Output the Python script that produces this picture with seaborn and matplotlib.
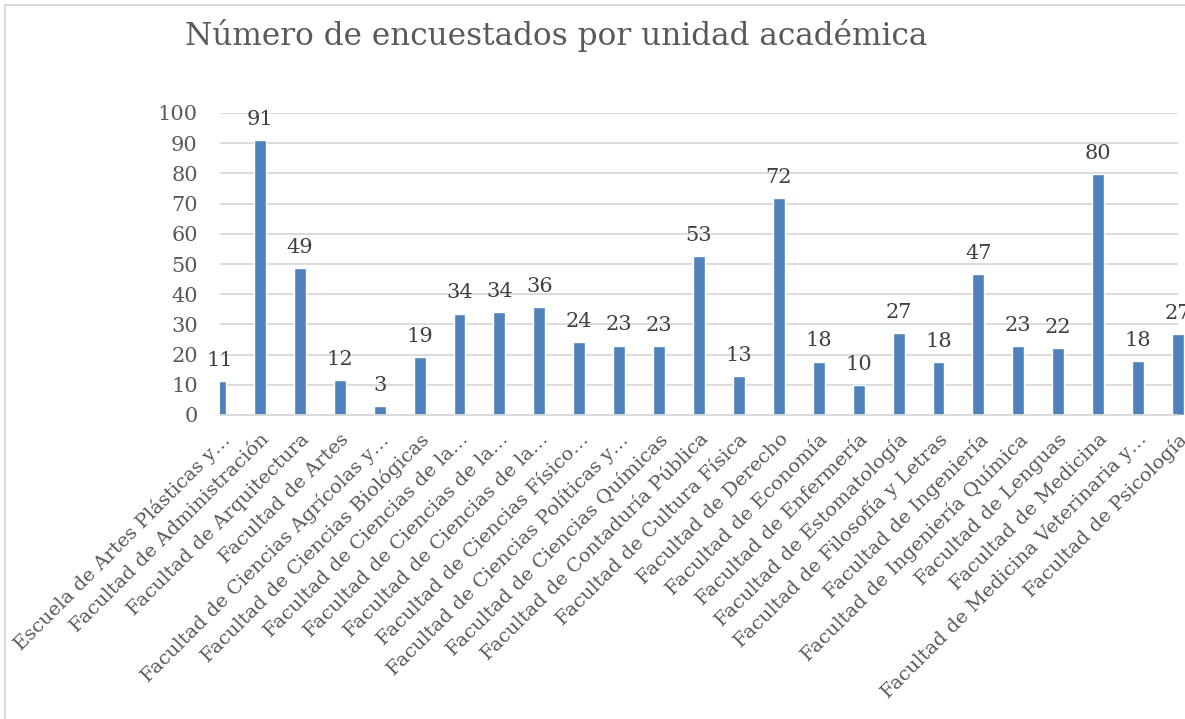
import matplotlib
matplotlib.use("Agg")
import matplotlib.pyplot as plt
import seaborn as sns
import pandas as pd
from matplotlib.patches import Rectangle

# datos
unidades = [
    "Escuela de Artes Plásticas y…",
    "Facultad de Administración",
    "Facultad de Arquitectura",
    "Facultad de Artes",
    "Facultad de Ciencias Agrícolas y…",
    "Facultad de Ciencias Biológicas",
    "Facultad de Ciencias de la…",
    "Facultad de Ciencias de la…",
    "Facultad de Ciencias de la…",
    "Facultad de Ciencias Físico…",
    "Facultad de Ciencias Políticas y…",
    "Facultad de Ciencias Químicas",
    "Facultad de Contaduría Pública",
    "Facultad de Cultura Física",
    "Facultad de Derecho",
    "Facultad de Economía",
    "Facultad de Enfermería",
    "Facultad de Estomatología",
    "Facultad de Filosofía y Letras",
    "Facultad de Ingeniería",
    "Facultad de Ingeniería Química",
    "Facultad de Lenguas",
    "Facultad de Medicina",
    "Facultad de Medicina Veterinaria y…",
    "Facultad de Psicología",
]
encuestados = [11.3, 91.1, 48.7, 11.6, 3.1, 19.2, 33.6, 34.2, 35.7, 24.2, 23.0, 22.7,
               52.7, 12.8, 71.9, 17.7, 10.0, 27.1, 17.5, 46.8, 22.7, 22.2, 79.9, 17.8, 26.8]
etiquetas = [f"{v:.0f}" for v in encuestados]

tabela = pd.DataFrame({"pos": list(range(len(unidades))), "n": encuestados})

sns.set_style("white")
plt.rcParams["font.family"] = ["DejaVu Serif", "DejaVu Sans"]

fig = plt.figure(figsize=(11.85, 7.19), dpi=100)
ax = fig.add_axes([220 / 1185, 304 / 719, (1178 - 220) / 1185, (415 - 113) / 719])

sns.barplot(data=tabela, x="pos", y="n", color="#4F81BD", saturation=1, width=0.3, ax=ax)

# la primera barra queda recortada por el eje, la ultima no
for p in ax.patches[1:]:
    p.set_clip_on(False)

ax.set_ylim(0, 100)
ax.set_xlim(0, 23.95)
ax.set_yticks(range(0, 101, 10))
ax.yaxis.grid(True, color="#D9D9D9", linewidth=1.3)
ax.set_axisbelow(True)
for s in ["top", "right", "left"]:
    ax.spines[s].set_visible(False)
ax.spines["bottom"].set_color("#D9D9D9")
ax.spines["bottom"].set_linewidth(1.3)

ax.set_xticks(range(len(unidades)))
ax.set_xticklabels(unidades, rotation=45, ha="right", va="top", rotation_mode="anchor")
ax.tick_params(axis="x", length=0, pad=11, labelsize=14, labelcolor="#595959")
ax.tick_params(axis="y", length=0, pad=16, labelsize=15, labelcolor="#595959")
ax.set_xlabel("")
ax.set_ylabel("")

ax.bar_label(ax.containers[0], labels=etiquetas, padding=8, fontsize=15, color="#404040")

fig.text(556 / 1185, 1 - 36 / 719, "Número de encuestados por unidad académica",
         ha="center", va="center", fontsize=22.4, color="#595959")

# borde del área del gráfico
fig.patches.append(Rectangle((5 / 1185, -0.1), 1.2, 1 - 5 / 719 + 0.1, transform=fig.transFigure,
                             fill=False, edgecolor="#D9D9D9", linewidth=1.5))

fig.savefig("out.png", dpi=100)
